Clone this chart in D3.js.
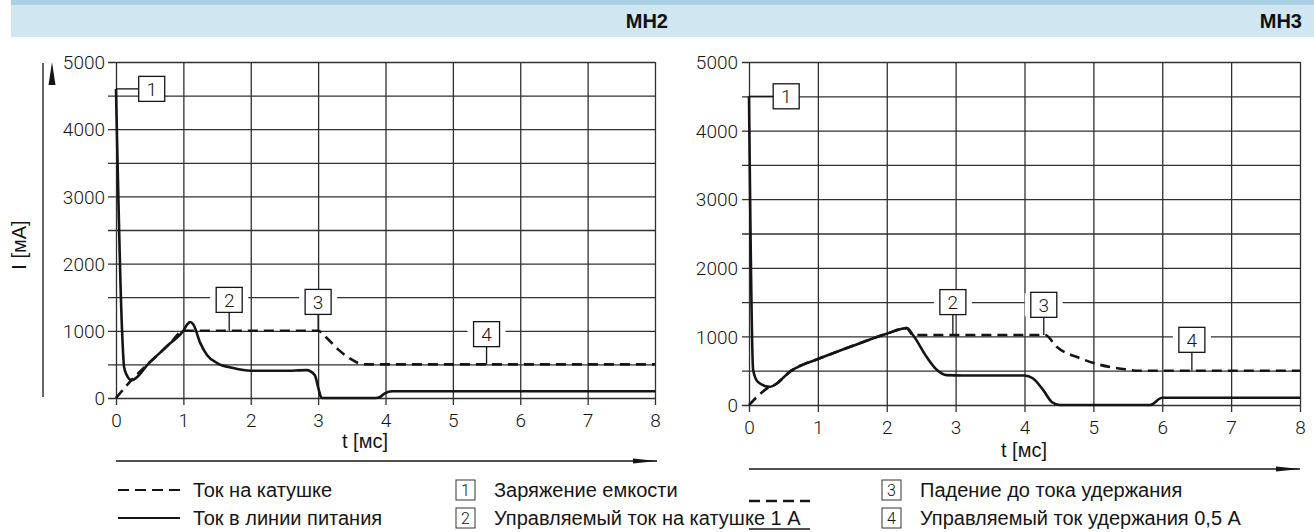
<!DOCTYPE html>
<html>
<head>
<meta charset="utf-8">
<script src="https://cdn.jsdelivr.net/npm/d3@7"></script>
<style>
  html, body { margin: 0; padding: 0; background: #fff; }
  svg { display: block; }
</style>
</head>
<body>
<svg id="chart" width="1314" height="532"></svg>
<script>
// ---------------- DATA ----------------
const timeTicks = [0, 1, 2, 3, 4, 5, 6, 7, 8];
const currentGrid = [0, 500, 1000, 1500, 2000, 2500, 3000, 3500, 4000, 4500, 5000];
const currentLabels = [0, 1000, 2000, 3000, 4000, 5000];

// MH2 – supply line current (solid)
const mh2SupplyT = [0, 0.09, 0.12, 0.16, 0.23, 0.5, 0.8, 1.0, 1.06, 1.1, 1.15, 1.25, 1.35, 1.5, 1.74, 2.0, 2.5, 2.83, 2.95, 3.0, 3.04, 3.06, 3.85, 3.92, 3.99, 4.1, 8];
const mh2SupplyI = [4600, 1000, 460, 340, 265, 530, 810, 1000, 1100, 1130, 1090, 820, 640, 520, 445, 405, 405, 415, 340, 160, 20, 0, 0, 15, 70, 100, 100];
// MH2 – coil current (dashed)
const mh2CoilT = [0, 0.23, 0.5, 0.8, 1.0, 1.17, 3.0, 3.1, 3.3, 3.5, 3.65, 3.8, 8];
const mh2CoilI = [0, 265, 530, 810, 1000, 1000, 1000, 920, 720, 570, 505, 500, 500];

// MH3 – supply line current (solid)
const mh3SupplyT = [0, 0.06, 0.13, 0.3, 0.4, 0.5, 0.6, 0.7, 1.0, 1.5, 2.0, 2.29, 2.38, 2.58, 2.73, 2.87, 3.1, 4.0, 4.12, 4.27, 4.4, 4.51, 5.82, 6.0, 8];
const mh3SupplyI = [4500, 510, 335, 265, 310, 400, 490, 550, 670, 860, 1040, 1120, 1020, 700, 510, 435, 430, 430, 390, 220, 40, 0, 0, 105, 105];
// MH3 – coil current (dashed)
const mh3CoilT = [0, 0.3, 0.4, 0.5, 0.6, 0.7, 1.0, 1.5, 2.0, 2.29, 2.38, 4.3, 4.47, 4.8, 5.1, 5.43, 5.67, 8];
const mh3CoilI = [0, 265, 310, 400, 490, 550, 670, 860, 1040, 1120, 1020, 1020, 845, 685, 585, 525, 500, 500];

// Callout markers: id, anchor (t, I), box centre (t, I)
const mh2Markers = [
  {id: "1", t: 0,    i: 4600, bt: 0.53, bi: 4600, horiz: true},
  {id: "2", t: 1.68, i: 1000, bt: 1.68, bi: 1460},
  {id: "3", t: 3.0,  i: 1000, bt: 3.0,  bi: 1430},
  {id: "4", t: 5.5,  i: 500,  bt: 5.5,  bi: 950}
];
const mh3Markers = [
  {id: "1", t: 0,    i: 4500, bt: 0.54, bi: 4500, horiz: true},
  {id: "2", t: 2.96, i: 1020, bt: 2.96, bi: 1500},
  {id: "3", t: 4.28, i: 1020, bt: 4.28, bi: 1460},
  {id: "4", t: 6.43, i: 500,  bt: 6.43, bi: 950}
];

const titles = ["MH2", "MH3"];
const axisTitleY = "I [мА]";
const axisTitleX = "t [мс]";
const legendSeries = ["Ток на катушке", "Ток в линии питания"];
const legendNotes = [
  {id: "1", text: "Заряжение емкости"},
  {id: "2", text: "Управляемый ток на катушке 1 А"},
  {id: "3", text: "Падение до тока удержания"},
  {id: "4", text: "Управляемый ток удержания 0,5 А"}
];

// ---------------- DRAW ----------------
const svg = d3.select("#chart");
const tickFont = "Roboto, 'DejaVu Sans', sans-serif";
const textFont = "'Liberation Sans', Arial, sans-serif";
const ink = "#151515";

// header band
svg.append("rect").attr("x", 11).attr("y", 0).attr("width", 1303).attr("height", 5).attr("fill", "#a9d0e3");
svg.append("rect").attr("x", 11).attr("y", 5).attr("width", 1303).attr("height", 32).attr("fill", "#d0e6f1");
svg.append("text").attr("x", 668).attr("y", 28).attr("text-anchor", "end")
  .attr("font-family", textFont).attr("font-weight", "bold").attr("font-size", 20).attr("fill", "#111").text(titles[0]);
svg.append("text").attr("x", 1302).attr("y", 28).attr("text-anchor", "end")
  .attr("font-family", textFont).attr("font-weight", "bold").attr("font-size", 20).attr("fill", "#111").text(titles[1]);

// arrow marker
const defs = svg.append("defs");
defs.append("marker").attr("id", "arrowR").attr("viewBox", "0 0 24 8").attr("refX", 24).attr("refY", 4)
  .attr("markerWidth", 24).attr("markerHeight", 8).attr("markerUnits", "userSpaceOnUse").attr("orient", "auto")
  .append("path").attr("d", "M0,1.5 L24,4 L0,6.5 Z").attr("fill", ink);

function drawChart(cfg, supT, supI, coilT, coilI, markers) {
  const x = d3.scaleLinear().domain([0, 8]).range([cfg.x0, cfg.x1]);
  const y = d3.scaleLinear().domain([0, 5000]).range([cfg.yBot, cfg.yTop]);
  const g = svg.append("g");
  const h = cfg.yBot - cfg.yTop, w = cfg.x1 - cfg.x0;

  // vertical grid + x tick labels
  const xAxis = d3.axisBottom(x).tickValues(timeTicks).tickSizeInner(-h).tickSizeOuter(0).tickPadding(0).tickFormat(d3.format("d"));
  const gx = g.append("g").attr("transform", `translate(0,${cfg.yBot})`).call(xAxis);
  gx.select(".domain").remove();
  gx.selectAll(".tick line").attr("y1", cfg.tickDown).attr("stroke", "#303030").attr("stroke-width", 1.3);
  gx.selectAll(".tick text").attr("y", 22).attr("dy", "0.35em").attr("font-family", tickFont).attr("font-weight", 300)
    .attr("font-size", 19).attr("fill", ink);

  // horizontal grid + y labels
  const yAxis = d3.axisLeft(y).tickValues(currentGrid).tickSizeInner(-w).tickSizeOuter(0).tickPadding(11)
    .tickFormat(d => currentLabels.includes(d) ? d : "");
  const gy = g.append("g").attr("transform", `translate(${cfg.x0},0)`).call(yAxis);
  gy.select(".domain").remove();
  gy.selectAll(".tick line").attr("x1", -cfg.tickLeft).attr("stroke", "#303030").attr("stroke-width", 1.3);
  gy.selectAll(".tick text").attr("dy", "0.35em").attr("font-family", tickFont).attr("font-weight", 300)
    .attr("font-size", 19).attr("fill", ink);

  // curves
  const line = d3.line().x(d => x(d[0])).y(d => y(d[1])).curve(d3.curveMonotoneX);
  g.append("path").datum(d3.zip(coilT, coilI)).attr("d", line).attr("fill", "none").attr("stroke", ink)
    .attr("stroke-width", 2.6).attr("stroke-dasharray", "10,6");
  g.append("path").datum(d3.zip(supT, supI)).attr("d", line).attr("fill", "none").attr("stroke", ink)
    .attr("stroke-width", 2.6).attr("stroke-linejoin", "round");

  // callouts
  const bw = 26, bh = 25;
  markers.forEach(m => {
    const bx = x(m.bt), by = y(m.bi);
    if (m.horiz) {
      g.append("line").attr("x1", x(m.t)).attr("y1", y(m.i)).attr("x2", bx - bw / 2).attr("y2", by)
        .attr("stroke", ink).attr("stroke-width", 1.3);
    } else {
      g.append("line").attr("x1", x(m.t)).attr("y1", y(m.i)).attr("x2", bx).attr("y2", by + bh / 2)
        .attr("stroke", ink).attr("stroke-width", 1.3);
      g.append("rect").attr("x", bx - bw / 2 - 6).attr("y", by - bh / 2 + 1).attr("width", bw + 12).attr("height", bh - 2)
        .attr("fill", "#fff");
    }
    g.append("rect").attr("x", bx - bw / 2).attr("y", by - bh / 2).attr("width", bw).attr("height", bh)
      .attr("fill", "#fff").attr("stroke", ink).attr("stroke-width", 1.3);
    g.append("text").attr("x", bx).attr("y", by).attr("dy", "0.36em").attr("text-anchor", "middle")
      .attr("font-family", tickFont).attr("font-weight", 300).attr("font-size", 19).attr("fill", ink).text(m.id);
  });

  // x title + arrow
  svg.append("text").attr("x", cfg.titleX).attr("y", cfg.titleY).attr("dy", "0.35em").attr("text-anchor", "middle")
    .attr("font-family", textFont).attr("font-size", 20).attr("fill", ink).text(axisTitleX);
  svg.append("line").attr("x1", cfg.x0).attr("x2", cfg.arrowEnd).attr("y1", cfg.arrowY).attr("y2", cfg.arrowY)
    .attr("stroke", ink).attr("stroke-width", 1.3).attr("marker-end", "url(#arrowR)");
  return {x, y};
}

drawChart({x0: 116, x1: 655, yTop: 62, yBot: 398, tickDown: 7, tickLeft: 8, titleX: 365, titleY: 441, arrowY: 461, arrowEnd: 657},
  mh2SupplyT, mh2SupplyI, mh2CoilT, mh2CoilI, mh2Markers);
drawChart({x0: 749, x1: 1300, yTop: 62, yBot: 405, tickDown: 7, tickLeft: 7, titleX: 1024, titleY: 450, arrowY: 469, arrowEnd: 1300},
  mh3SupplyT, mh3SupplyI, mh3CoilT, mh3CoilI, mh3Markers);

// left y axis title with arrow
svg.append("text").attr("transform", "translate(19,245) rotate(-90)").attr("text-anchor", "middle").attr("dy", "0.35em")
  .attr("font-family", textFont).attr("font-size", 20).attr("fill", ink).text(axisTitleY);
svg.append("line").attr("x1", 43).attr("x2", 43).attr("y1", 63).attr("y2", 397).attr("stroke", ink).attr("stroke-width", 1.3);
svg.append("path").attr("d", "M52,62 L48.5,85 L55.5,85 Z").attr("fill", ink);

// legend
const lg = svg.append("g");
lg.append("line").attr("x1", 118).attr("x2", 180).attr("y1", 490).attr("y2", 490).attr("stroke", ink)
  .attr("stroke-width", 2.2).attr("stroke-dasharray", "11,6");
lg.append("line").attr("x1", 118).attr("x2", 180).attr("y1", 518).attr("y2", 518).attr("stroke", ink).attr("stroke-width", 2.2);
legendSeries.forEach((s, k) => {
  lg.append("text").attr("x", 193).attr("y", 490 + k * 28).attr("dy", "0.36em").attr("font-family", textFont)
    .attr("font-size", 20).attr("fill", ink).text(s);
});
legendNotes.forEach((n, k) => {
  const col = Math.floor(k / 2), row = k % 2;
  const bx = col === 0 ? 456 : 882, by = 490 + row * 28;
  lg.append("rect").attr("x", bx).attr("y", by - 10).attr("width", 19).attr("height", 20).attr("fill", "none")
    .attr("stroke", "#333").attr("stroke-width", 1);
  lg.append("text").attr("x", bx + 9.5).attr("y", by).attr("dy", "0.36em").attr("text-anchor", "middle")
    .attr("font-family", tickFont).attr("font-weight", 300).attr("font-size", 16).attr("fill", ink).text(n.id);
  lg.append("text").attr("x", bx + 38).attr("y", by).attr("dy", "0.36em").attr("font-family", textFont)
    .attr("font-size", 20).attr("fill", ink).text(n.text);
});
// stray legend strokes present in the original
lg.append("line").attr("x1", 749).attr("x2", 810).attr("y1", 501).attr("y2", 501).attr("stroke", ink)
  .attr("stroke-width", 2.4).attr("stroke-dasharray", "11,6");
lg.append("line").attr("x1", 749).attr("x2", 810).attr("y1", 529).attr("y2", 529).attr("stroke", ink).attr("stroke-width", 1.4);
</script>
</body>
</html>
